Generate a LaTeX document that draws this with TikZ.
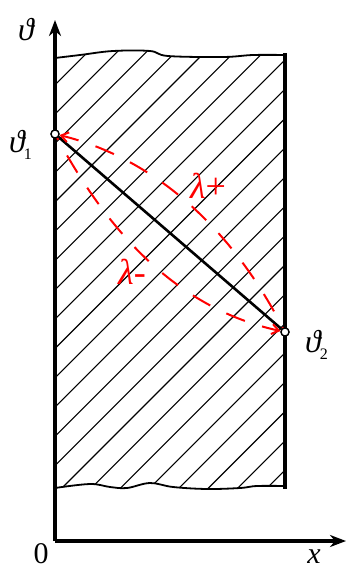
\documentclass[tikz,border=0pt]{standalone}
\usetikzlibrary{arrows.meta}
\usepackage{fontspec}
\setmainfont{Liberation Serif}
\newcommand{\thsub}[1]{{\itshape ϑ}\kern-1pt\raisebox{-7pt}{\fontsize{16}{17}\selectfont #1}}
\begin{document}
\begin{tikzpicture}[x=1pt,y=-1pt,
  axis/.style={line width=3.6pt,-{Stealth[length=16pt,width=12pt,inset=5pt]}},
  border/.style={line width=3.6pt},
  wavy/.style={line width=1.8pt},
  hatch/.style={line width=1.1pt},
  chord/.style={line width=2.6pt},
  charc/.style={red,line width=2pt,dash pattern=on 20pt off 18pt},
  pt/.style={circle,draw,fill=white,line width=1.3pt,inner sep=0pt,minimum size=8pt},
  lbl/.style={font=\fontsize{32}{34}\selectfont,inner sep=0pt},
  axlbl/.style={font=\fontsize{30}{32}\selectfont,inner sep=0pt},
  rlbl/.style={font=\fontsize{36}{38}\selectfont,inner sep=0pt,text=red}]
\useasboundingbox (0,0) rectangle (346,570);
% hatched strip
\begin{scope}
\clip plot[smooth,tension=0.6] coordinates {(55,58) (80,55) (113,51) (150,51) (168,56) (223,57) (253,55) (285,55)}
  -- plot[smooth,tension=0.6] coordinates {(285,486) (257,486) (240,488) (207,489) (173,487) (150,483) (127,488) (110,487) (90,484) (55,488)} -- cycle;
\foreach \k in {-9,...,16}{
  \draw[hatch] (40,{550-29.3*\k-40}) -- (300,{550-29.3*\k-300});
}
\end{scope}
\draw[wavy] plot[smooth,tension=0.6] coordinates {(55,58) (80,55) (113,51) (150,51) (168,56) (223,57) (253,55) (286,55)};
\draw[wavy] plot[smooth,tension=0.6] coordinates {(286,486) (257,486) (240,488) (207,489) (173,487) (150,483) (127,488) (110,487) (90,484) (55,488)};
\coordinate (rt) at (285,53);
\coordinate (rb) at (285,489);
\draw[border] (rt) -- (rb);
% axes
\coordinate (O) at (55,541);
\coordinate (Ytip) at (55,20);
\coordinate (Xtip) at (346,541);
\draw[axis] (O) -- (Ytip);
\draw[axis] (O) -- (Xtip);
% points
\node[pt] (A) at (55,134) {};
\node[pt] (B) at (285,332) {};
\draw[chord] (A) -- (B);
\draw[charc,dash phase=3pt,{Straight Barb[length=7pt,width=10pt,line width=2pt]}-] (A) .. controls (152,158) and (230,225) .. (B);
\draw[charc,dash phase=18pt,-{Straight Barb[length=7pt,width=10pt,line width=2pt]}] (A) .. controls (101,218) and (167,306) .. (B);
\node[pt] at (A) {};
\node[pt] at (B) {};
% labels
\node[lbl] (ty) at (26,30) {\itshape ϑ};
\node[lbl] (t1) at (20.5,145) {\thsub{1}};
\node[lbl] (t2) at (316.5,344.5) {\thsub{2}};
\node[axlbl,anchor=base] (zero) at (41,563) {0};
\node[axlbl,anchor=base] (xl) at (314,563) {\itshape x};
\node[rlbl] (lp) at (208,186) {\textit{λ}+};
\node[rlbl] (lm) at (132,272) {\textit{λ}-};
\end{tikzpicture}
\end{document}
